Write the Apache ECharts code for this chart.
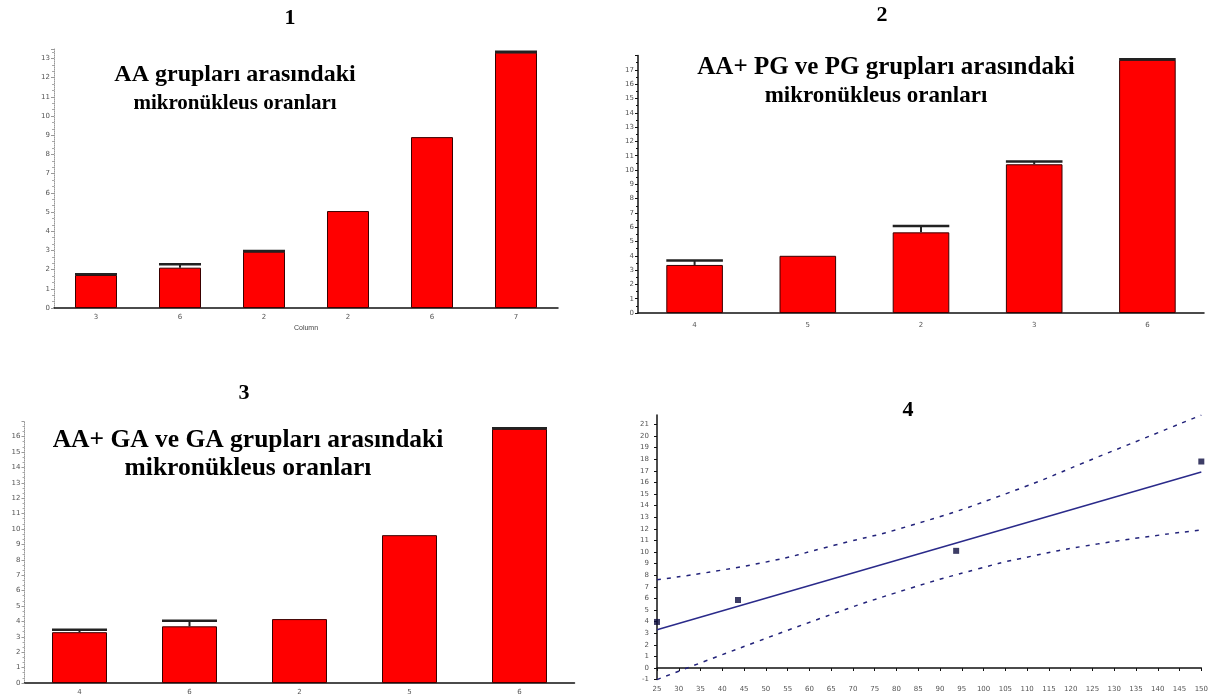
<!DOCTYPE html>
<html><head><meta charset="utf-8">
<script src="https://cdn.jsdelivr.net/npm/echarts@6/dist/echarts.min.js"></script>
<style>html,body{margin:0;padding:0;background:#fff}#c{width:1211px;height:699px}</style>
</head><body><div id="c"></div>
<script>
// ---- data ----
const cats1 = ["3","6","2","2","6","7"];
const vals1 = [1.72, 2.10, 2.93, 5.05, 8.90, 13.3];
const caps1 = [1.76, 2.28, 2.97, null, null, 13.35];

const cats2 = ["4","5","2","3","6"];
const vals2 = [3.36, 4.0, 5.64, 10.4, 17.7];
const caps2 = [3.68, null, 6.08, 10.6, 17.75];

const cats3 = ["4","6","2","5","6"];
const vals3 = [3.3, 3.68, 4.15, 9.6, 16.5];
const caps3 = [3.45, 4.04, null, null, 16.55];

const pts4 = [[25, 3.97], [43.6, 5.86], [93.7, 10.1], [150, 17.8]];
const fit4 = [[25, 3.3], [150, 16.9]];
const upper4 = [[25, 7.6], [48.9, 9.05], [65.9, 10.6], [83.4, 12.3], [105.7, 15.1], [126.3, 18.2], [150, 21.8]];
const lower4 = [[25, -1.0], [62.7, 4.3], [83.4, 6.9], [98.8, 8.55], [108, 9.4], [126.3, 10.7], [150, 11.9]];

const titles = ["1","2","3","4"];
const sub1 = ["AA grupları arasındaki", "mikronükleus oranları"];
const sub2 = ["AA+ PG ve PG grupları arasındaki", "mikronükleus oranları"];
const sub3 = ["AA+ GA ve GA grupları arasındaki", "mikronükleus oranları"];

// ---- chart ----
const chart = echarts.init(document.getElementById('c'));
const serif = '"Liberation Serif", "Times New Roman", serif';
const tickLbl = {fontSize: 7, color: '#555', fontFamily: 'DejaVu Sans'};

function errData(caps, vals){
  const out = [];
  caps.forEach((c,i)=>{ if(c!=null) out.push([i, c, vals[i]]); });
  return out;
}
function errItem(params, api){
  const i = api.value(0), hi = api.value(1), lo = api.value(2);
  const top = api.coord([i, hi]); const bot = api.coord([i, lo]);
  const w = api.size([1,0])[0]*0.5;
  return {type:'group', children:[
    {type:'line', shape:{x1:top[0], y1:top[1], x2:bot[0], y2:bot[1]}, style:{stroke:'#222', lineWidth:2}},
    {type:'line', shape:{x1:top[0]-w/2, y1:top[1], x2:top[0]+w/2, y2:top[1]}, style:{stroke:'#222', lineWidth:2.5}}
  ]};
}
function catAxis(idx, cats, extra){
  return Object.assign({type:'category', gridIndex: idx, data: cats,
    axisLine:{lineStyle:{color:'#111', width:1.5}}, axisTick:{show:false},
    axisLabel:Object.assign({margin:6}, tickLbl), splitLine:{show:false}}, extra||{});
}
function valAxis(idx, max, dotted){
  return {type:'value', gridIndex: idx, min:0, max:max, interval:1,
    axisLine:{show:true, lineStyle:{color: dotted?'#999':'#111', width: dotted?1:1.5, type: dotted?'dotted':'solid'}},
    axisTick:{show:true, length:3, lineStyle:{color: dotted?'#999':'#111'}},
    minorTick:{show:!dotted ? false : true, splitNumber:3, length:2, lineStyle:{color:'#aaa'}},
    axisLabel:Object.assign({margin:4, showMaxLabel:false}, tickLbl), splitLine:{show:false}};
}
function barSeries(idx, vals){
  return {type:'bar', xAxisIndex: idx, yAxisIndex: idx, data: vals, barWidth:'50%',
    itemStyle:{color:'#ff0000', borderColor:'#3a0000', borderWidth:1}, silent:true, animation:false};
}
function errSeries(idx, caps, vals){
  return {type:'custom', xAxisIndex: idx, yAxisIndex: idx, data: errData(caps, vals),
    renderItem: errItem, z: 5, silent:true, animation:false};
}
function txt(x, y, s, size){
  return {type:'text', x:x, y:y, style:{text:s, fill:'#000', font:'bold '+size+'px '+serif, textAlign:'center', textVerticalAlign:'middle'}};
}

const option = {
  animation:false,
  grid:[
    {left:54, top:308-13.5*19.2, width:504, height:13.5*19.2},
    {left:638, top:313-18*14.3, width:566, height:18*14.3},
    {left:24.5, top:683-17*15.4, width:550, height:17*15.4},
    {left:657, top:679.6-22.8*11.6, width:546, height:22.8*11.6}
  ],
  xAxis:[
    catAxis(0, cats1, {name:'Column', nameLocation:'middle', nameGap:17, nameTextStyle:{fontSize:7, color:'#444'}}),
    catAxis(1, cats2, {axisLabel:Object.assign({margin:9}, tickLbl)}),
    catAxis(2, cats3),
    {type:'value', gridIndex:3, min:25, max:150, interval:5,
      axisLine:{lineStyle:{color:'#111', width:1.5}}, axisTick:{show:true, length:3, lineStyle:{color:'#111'}},
      axisLabel:Object.assign({margin:6}, tickLbl), splitLine:{show:false}}
  ],
  yAxis:[
    valAxis(0, 13.5, true),
    Object.assign(valAxis(1, 18, false), {minorTick:{show:true, splitNumber:2, length:2, lineStyle:{color:'#111'}}}),
    valAxis(2, 17, true),
    {type:'value', gridIndex:3, min:-1, max:21.8, interval:1,
      axisLine:{show:true, lineStyle:{color:'#111', width:1.5}}, axisTick:{show:true, length:3, lineStyle:{color:'#111'}},
      axisLabel:Object.assign({margin:8, showMaxLabel:false}, tickLbl), splitLine:{show:false}}
  ],
  series:[
    barSeries(0, vals1), errSeries(0, caps1, vals1),
    barSeries(1, vals2), errSeries(1, caps2, vals2),
    barSeries(2, vals3), errSeries(2, caps3, vals3),
    {type:'line', xAxisIndex:3, yAxisIndex:3, data: upper4, smooth:true, symbol:'none',
      lineStyle:{color:'#22227a', width:1.5, type:[4,6]}, silent:true},
    {type:'line', xAxisIndex:3, yAxisIndex:3, data: lower4, smooth:true, symbol:'none',
      lineStyle:{color:'#22227a', width:1.5, type:[4,6]}, silent:true},
    {type:'line', xAxisIndex:3, yAxisIndex:3, data: fit4, symbol:'none',
      lineStyle:{color:'#2a2a8a', width:1.5}, silent:true},
    {type:'scatter', xAxisIndex:3, yAxisIndex:3, data: pts4, symbol:'rect', symbolSize:6,
      itemStyle:{color:'#0c0c40'}, silent:true, z:6}
  ],
  graphic:[
    txt(290, 18, titles[0], 22), txt(882, 15, titles[1], 22), txt(244, 393, titles[2], 22), txt(908, 410, titles[3], 22),
    txt(235, 75, sub1[0], 24), txt(235, 104, sub1[1], 21),
    txt(886, 68, sub2[0], 25), txt(876, 96, sub2[1], 23),
    txt(248, 440, sub3[0], 25.5), txt(248, 468, sub3[1], 25.5)
  ]
};
chart.setOption(option);
</script></body></html>
